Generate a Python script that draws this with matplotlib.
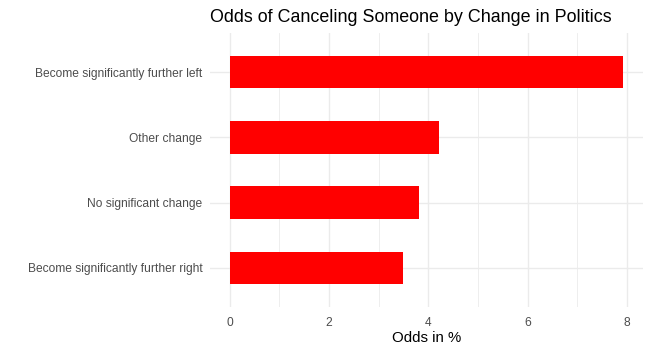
import matplotlib.pyplot as plt
import numpy as np

plt.rcParams['font.family'] = ['Liberation Sans', 'DejaVu Sans']

# data (bottom to top)
categories = ['Become significantly further right', 'No significant change',
              'Other change', 'Become significantly further left']
odds = [3.50, 3.81, 4.21, 7.92]

fig = plt.figure(figsize=(6.5, 3.53), dpi=100)
ax = fig.add_axes([210 / 650, 1 - 307 / 353, (642.5 - 210) / 650, (307 - 33) / 353])

y = np.arange(1, len(categories) + 1)
ax.barh(y, odds, height=0.5, color='#FF0000', zorder=2)

ax.set_xlim(-0.396, 8.316)
ax.set_ylim(0.4, 4.6)
ax.set_xticks([0, 2, 4, 6, 8])
ax.set_xticks([1, 3, 5, 7], minor=True)
ax.set_yticks(y)
ax.set_yticklabels(categories)

ax.grid(which='major', color='#EBEBEB', linewidth=1.0, zorder=0)
ax.grid(which='minor', axis='x', color='#EBEBEB', linewidth=0.6, zorder=0)
ax.set_axisbelow(True)
for s in ax.spines.values():
    s.set_visible(False)
ax.tick_params(which='both', length=0, labelsize=8.65, labelcolor='#4D4D4D')
ax.tick_params(axis='y', pad=5.5)
ax.tick_params(axis='x', pad=7)

ax.set_xlabel('Odds in %', fontsize=10.8, color='black', labelpad=1.5)
fig.text(210 / 650, 1 - 17 / 353, 'Odds of Canceling Someone by Change in Politics',
         fontsize=12.9, ha='left', va='center', color='black')

plt.savefig('out.png', dpi=100)
